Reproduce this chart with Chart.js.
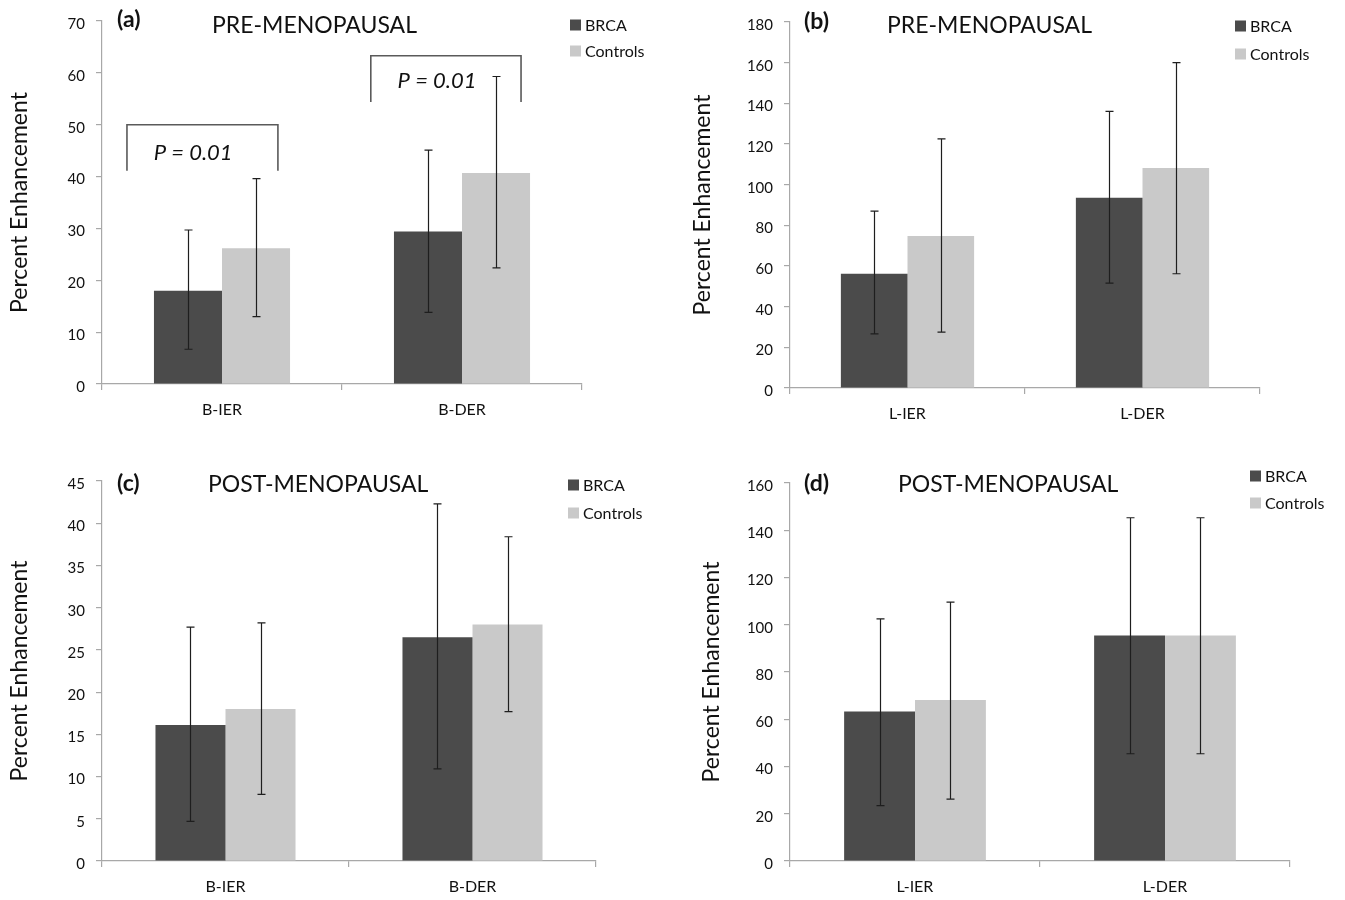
<!DOCTYPE html>
<html><head><meta charset="utf-8">
<script src="https://cdn.jsdelivr.net/npm/chart.js@4.4.0/dist/chart.umd.min.js"></script>
<style>
html,body{margin:0;padding:0;background:#fff;}
body{width:1345px;height:900px;position:relative;overflow:hidden;}
.p{position:absolute;}
</style></head><body>
<div class="p" style="left:0;top:0;width:672px;height:445px"><canvas id="ca"></canvas></div>
<div class="p" style="left:672px;top:0;width:673px;height:445px"><canvas id="cb"></canvas></div>
<div class="p" style="left:0;top:445px;width:672px;height:455px"><canvas id="cc"></canvas></div>
<div class="p" style="left:672px;top:445px;width:673px;height:455px"><canvas id="cd"></canvas></div>
<script>
// ---------- DATA ----------
const seriesNames = ['BRCA', 'Controls'];

// (a) PRE-MENOPAUSAL, B
const aCategories = ['B-IER', 'B-DER'];
const aBrca      = [18.0, 29.4];
const aBrcaLow   = [6.7, 13.8];
const aBrcaHigh  = [29.7, 45.1];
const aCtrl      = [26.2, 40.7];
const aCtrlLow   = [13.0, 22.4];
const aCtrlHigh  = [39.6, 59.3];
const aYMax = 70, aYStep = 10;
// significance brackets (a): [start pos, end pos] in category units, [top, bottom] values
const aBracketPos    = [[-0.396, 0.233], [0.62, 1.246]];
const aBracketY      = [[50, 41.1], [63.3, 54.4]];
const aBracketText   = ['P = 0.01', 'P = 0.01'];
const aBracketTextAt = [[-0.12, 44.5], [0.896, 58.4]];

// (b) PRE-MENOPAUSAL, L
const bCategories = ['L-IER', 'L-DER'];
const bBrca      = [56.2, 93.6];
const bBrcaLow   = [26.6, 51.6];
const bBrcaHigh  = [87.0, 136.0];
const bCtrl      = [74.8, 108.2];
const bCtrlLow   = [27.5, 56.2];
const bCtrlHigh  = [122.5, 160.0];
const bYMax = 180, bYStep = 20;

// (c) POST-MENOPAUSAL, B
const cCategories = ['B-IER', 'B-DER'];
const cBrca      = [16.1, 26.5];
const cBrcaLow   = [4.7, 10.9];
const cBrcaHigh  = [27.7, 42.3];
const cCtrl      = [18.0, 28.0];
const cCtrlLow   = [7.9, 17.7];
const cCtrlHigh  = [28.2, 38.4];
const cYMax = 45, cYStep = 5;

// (d) POST-MENOPAUSAL, L
const dCategories = ['L-IER', 'L-DER'];
const dBrca      = [63.3, 95.5];
const dBrcaLow   = [23.4, 45.4];
const dBrcaHigh  = [102.5, 145.3];
const dCtrl      = [68.2, 95.5];
const dCtrlLow   = [26.2, 45.4];
const dCtrlHigh  = [109.6, 145.3];
const dYMax = 160, dYStep = 20;

// ---------- STYLE ----------
const FONT = 'Lato, "Open Sans", sans-serif';
const BRCA_COLOR = '#4b4b4b';
const CTRL_COLOR = '#c9c9c9';
const AXIS_COLOR = '#a8a8a8';

const decorPlugin = {
  id: 'decor',
  afterDatasetsDraw(chart, args, o) {
    const ctx = chart.ctx, xs = chart.scales.x, ys = chart.scales.y;
    // error bars
    chart.data.datasets.forEach((ds, di) => {
      const meta = chart.getDatasetMeta(di);
      meta.data.forEach((bar, i) => {
        const lo = ys.getPixelForValue(ds.errLow[i]);
        const hi = ys.getPixelForValue(ds.errHigh[i]);
        const bx = Math.round(bar.x) + 0.5;
        ctx.save();
        ctx.strokeStyle = '#1e1e1e';
        ctx.lineWidth = 1.2;
        ctx.beginPath();
        ctx.moveTo(bx, lo); ctx.lineTo(bx, hi);
        ctx.moveTo(bx - 4, lo); ctx.lineTo(bx + 4, lo);
        ctx.moveTo(bx - 4, hi); ctx.lineTo(bx + 4, hi);
        ctx.stroke();
        ctx.restore();
      });
    });
    // brackets
    if (o.brackets) {
      const step = xs.getPixelForValue(1) - xs.getPixelForValue(0);
      const px = v => xs.getPixelForValue(0) + v * step;
      o.brackets.pos.forEach((p, i) => {
        const x1 = px(p[0]), x2 = px(p[1]);
        const yt = ys.getPixelForValue(o.brackets.y[i][0]);
        const yb = ys.getPixelForValue(o.brackets.y[i][1]);
        ctx.save();
        ctx.strokeStyle = '#5a5a5a';
        ctx.lineWidth = 1.6;
        ctx.beginPath();
        ctx.moveTo(x1, yb); ctx.lineTo(x1, yt); ctx.lineTo(x2, yt); ctx.lineTo(x2, yb);
        ctx.stroke();
        const t = o.brackets.textAt[i];
        ctx.fillStyle = '#111';
        ctx.font = 'italic 22px ' + FONT;
        ctx.textAlign = 'center';
        ctx.textBaseline = 'middle';
        ctx.fillText(o.brackets.text[i], px(t[0]), ys.getPixelForValue(t[1]));
        ctx.restore();
      });
    }
  },
  afterDraw(chart, args, o) {
    const ctx = chart.ctx;
    ctx.save();
    ctx.fillStyle = '#111';
    ctx.textBaseline = 'middle';
    ctx.textAlign = 'left';
    ctx.font = 'bold 23px ' + FONT;
    ctx.fillText(o.letter, o.letterX, o.letterY);
    ctx.font = '23px ' + FONT;
    ctx.fillText(o.title, o.titleX, o.titleY);
    // legend
    ctx.font = '16px ' + FONT;
    chart.data.datasets.forEach((ds, i) => {
      const cy = o.legY + i * o.legGap;
      ctx.fillStyle = ds.backgroundColor;
      ctx.fillRect(o.legX, cy - 5.5, 11, 11);
      ctx.fillStyle = '#111';
      ctx.fillText(ds.label, o.legX + 15, cy + 1);
    });
    ctx.restore();
  }
};

function makeChart(id, cfg) {
  return new Chart(document.getElementById(id), {
    type: 'bar',
    data: {
      labels: cfg.categories,
      datasets: [
        { label: seriesNames[0], data: cfg.brca, errLow: cfg.brcaLow, errHigh: cfg.brcaHigh,
          backgroundColor: BRCA_COLOR, borderWidth: 0 },
        { label: seriesNames[1], data: cfg.ctrl, errLow: cfg.ctrlLow, errHigh: cfg.ctrlHigh,
          backgroundColor: CTRL_COLOR, borderWidth: 0 }
      ]
    },
    options: {
      responsive: true,
      maintainAspectRatio: false,
      animation: false,
      events: [],
      datasets: { bar: { categoryPercentage: 0.567, barPercentage: 1.0 } },
      layout: { padding: { left: 0, right: cfg.padRight, top: cfg.padTop, bottom: 0 } },
      plugins: {
        legend: { display: false },
        tooltip: { enabled: false },
        decor: cfg.decor
      },
      scales: {
        x: {
          afterFit: s => { s.height = cfg.xHeight; },
          grid: { display: true, drawOnChartArea: false, drawTicks: true, tickLength: 6,
                  color: AXIS_COLOR, lineWidth: 1.2, offset: true },
          border: { display: true, color: AXIS_COLOR, width: 1.2 },
          ticks: { color: '#111', font: { family: FONT, size: 16 }, padding: 10 }
        },
        y: {
          min: 0, max: cfg.yMax,
          afterFit: s => { s.width = cfg.yWidth; },
          grid: { display: true, drawOnChartArea: false, drawTicks: true, tickLength: 6,
                  color: AXIS_COLOR, lineWidth: 1.2 },
          border: { display: true, color: AXIS_COLOR, width: 1.2 },
          ticks: { stepSize: cfg.yStep, color: '#111', font: { family: FONT, size: 15 },
                   padding: 11, labelOffset: 3 },
          title: { display: true, text: 'Percent Enhancement', color: '#111',
                   font: { family: FONT, size: 23 }, padding: { top: cfg.yTitlePad, bottom: 0 } }
        }
      }
    },
    plugins: [decorPlugin]
  });
}

makeChart('ca', {
  categories: aCategories, brca: aBrca, brcaLow: aBrcaLow, brcaHigh: aBrcaHigh,
  ctrl: aCtrl, ctrlLow: aCtrlLow, ctrlHigh: aCtrlHigh, yMax: aYMax, yStep: aYStep,
  yWidth: 102, padRight: 90, padTop: 21, xHeight: 61, yTitlePad: 6,
  decor: { letter: '(a)', letterX: 117, letterY: 20, title: 'PRE-MENOPAUSAL', titleX: 212, titleY: 26,
           legX: 570, legY: 25, legGap: 26,
           brackets: { pos: aBracketPos, y: aBracketY, text: aBracketText, textAt: aBracketTextAt } }
});
makeChart('cb', {
  categories: bCategories, brca: bBrca, brcaLow: bBrcaLow, brcaHigh: bBrcaHigh,
  ctrl: bCtrl, ctrlLow: bCtrlLow, ctrlHigh: bCtrlHigh, yMax: bYMax, yStep: bYStep,
  yWidth: 118, padRight: 85, padTop: 22, xHeight: 57, yTitlePad: 17,
  decor: { letter: '(b)', letterX: 132, letterY: 22, title: 'PRE-MENOPAUSAL', titleX: 215, titleY: 26,
           legX: 563, legY: 26, legGap: 28 }
});
makeChart('cc', {
  categories: cCategories, brca: cBrca, brcaLow: cBrcaLow, brcaHigh: cBrcaHigh,
  ctrl: cCtrl, ctrlLow: cCtrlLow, ctrlHigh: cCtrlHigh, yMax: cYMax, yStep: cYStep,
  yWidth: 102, padRight: 76, padTop: 36, xHeight: 39, yTitlePad: 6,
  decor: { letter: '(c)', letterX: 117, letterY: 39, title: 'POST-MENOPAUSAL', titleX: 208, titleY: 40,
           legX: 568, legY: 40, legGap: 28 }
});
makeChart('cd', {
  categories: dCategories, brca: dBrca, brcaLow: dBrcaLow, brcaHigh: dBrcaHigh,
  ctrl: dCtrl, ctrlLow: dCtrlLow, ctrlHigh: dCtrlHigh, yMax: dYMax, yStep: dYStep,
  yWidth: 118, padRight: 55, padTop: 38, xHeight: 39, yTitlePad: 26,
  decor: { letter: '(d)', letterX: 132, letterY: 39, title: 'POST-MENOPAUSAL', titleX: 226, titleY: 40,
           legX: 578, legY: 31, legGap: 27 }
});
</script>
</body></html>
